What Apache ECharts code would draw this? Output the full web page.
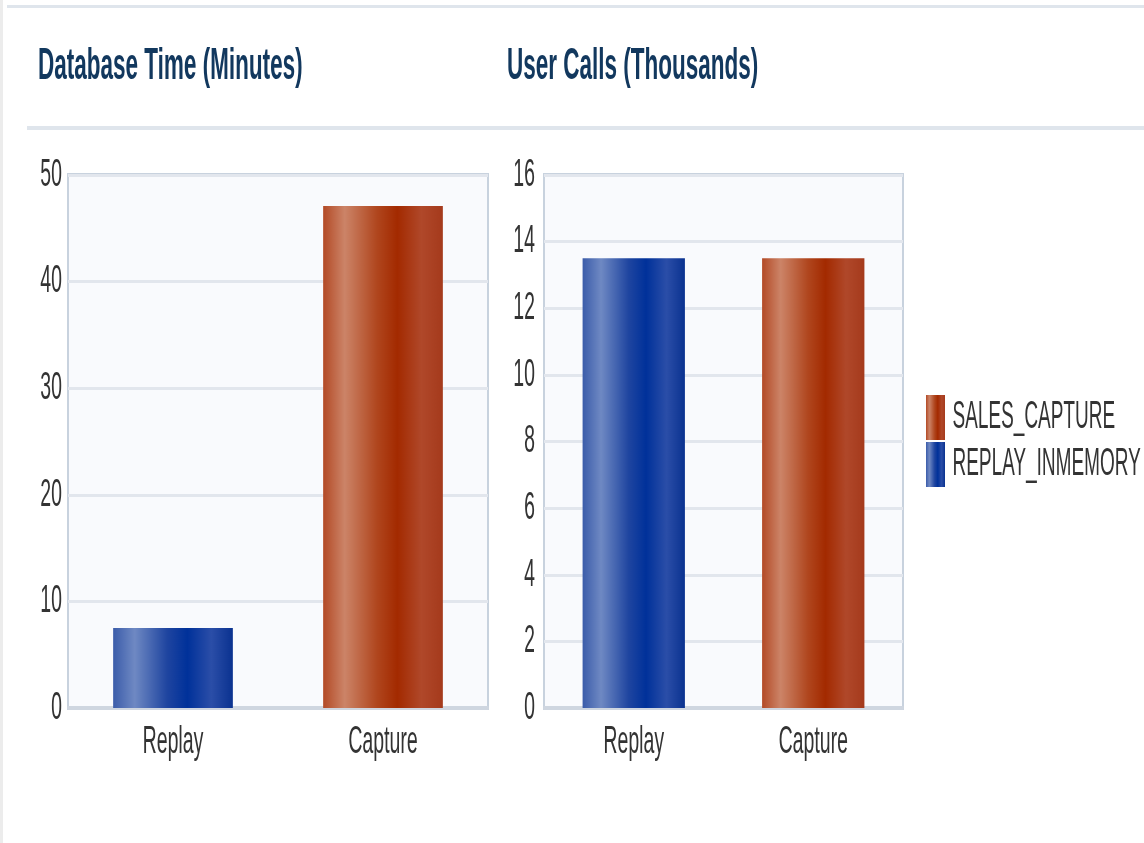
<!DOCTYPE html>
<html>
<head>
<meta charset="utf-8">
<script src="https://cdn.jsdelivr.net/npm/echarts@6/dist/echarts.min.js"></script>
<style>
html,body{margin:0;padding:0;background:#ffffff;overflow:hidden;width:1144px;height:843px;}
#c{width:2288px;height:843px;transform:scaleX(0.5);transform-origin:0 0;}
</style>
</head>
<body>
<div id="c"></div>
<script>
// ---- data ----
const categories = ['Replay', 'Capture'];
const seriesNames = ['SALES_CAPTURE', 'REPLAY_INMEMORY'];
const titles = ['Database Time (Minutes)', 'User Calls (Thousands)'];
// Database Time (Minutes)
const dbTimeSales = ['-', 47.1];
const dbTimeReplay = [7.5, '-'];
// User Calls (Thousands)
const userCallsSales = ['-', 13.5];
const userCallsReplay = [13.5, '-'];

// ---- styles ----
const FONT = 'Liberation Sans, Arial, sans-serif';
const blueGrad = new echarts.graphic.LinearGradient(0, 0, 1, 0, [
  {offset: 0, color: '#3b5caa'},
  {offset: 0.18, color: '#6f89c3'},
  {offset: 0.45, color: '#1f45a0'},
  {offset: 0.62, color: '#00319a'},
  {offset: 0.82, color: '#2b4ea8'},
  {offset: 1, color: '#0a3290'}
]);
const orangeGrad = new echarts.graphic.LinearGradient(0, 0, 1, 0, [
  {offset: 0, color: '#b34a26'},
  {offset: 0.18, color: '#cc8468'},
  {offset: 0.45, color: '#b0461e'},
  {offset: 0.62, color: '#a32a00'},
  {offset: 0.82, color: '#b0482a'},
  {offset: 1, color: '#a53a1c'}
]);

const chart = echarts.init(document.getElementById('c'), null, {renderer: 'canvas'});

function xAxisCfg(gi) {
  return {
    type: 'category', gridIndex: gi, data: categories,
    axisTick: {show: false},
    axisLine: {lineStyle: {color: '#cfd6e0', width: 4}},
    axisLabel: {fontSize: 39, color: '#333333', fontFamily: FONT, margin: 15}
  };
}
function yAxisCfg(gi, max, interval, margin) {
  return {
    type: 'value', gridIndex: gi, min: 0, max: max, interval: interval,
    axisLine: {show: false}, axisTick: {show: false},
    splitLine: {lineStyle: {color: '#e2e6ed', width: 3}},
    axisLabel: {fontSize: 39, color: '#333333', fontFamily: FONT, margin: margin}
  };
}
function barSeries(name, gi, data, color) {
  return {
    name: name, type: 'bar', xAxisIndex: gi, yAxisIndex: gi,
    data: data, barWidth: '57%', barGap: '-100%',
    itemStyle: {color: color}
  };
}

chart.setOption({
  animation: false,
  backgroundColor: '#ffffff',
  title: [
    {text: titles[0], left: 76, top: 44, padding: 0,
     textStyle: {fontSize: 45, fontWeight: 'bold', color: '#12385e', fontFamily: FONT}},
    {text: titles[1], left: 1014, top: 44, padding: 0,
     textStyle: {fontSize: 45, fontWeight: 'bold', color: '#12385e', fontFamily: FONT}}
  ],
  graphic: [
    {type: 'rect', left: 0, top: 0, shape: {width: 6, height: 843}, style: {fill: '#ececec'}, silent: true},
    {type: 'rect', left: 14, top: 5, shape: {width: 2288, height: 3}, style: {fill: '#dfe5ec'}, silent: true},
    {type: 'rect', left: 54, top: 126, shape: {width: 2288, height: 4}, style: {fill: '#dfe5ec'}, silent: true}
  ],
  legend: {
    orient: 'vertical', left: 1852, top: 395, padding: 0,
    itemWidth: 38, itemHeight: 45, itemGap: 2, icon: 'rect',
    data: seriesNames,
    textStyle: {fontSize: 38, color: '#333333', fontFamily: FONT, padding: [0, 0, 0, 10]}
  },
  grid: [
    {left: 136, right: 1312, top: 175, bottom: 135, show: true,
     backgroundColor: '#f9fafd', borderColor: '#c8d2de', borderWidth: 4},
    {left: 1088, right: 482, top: 175, bottom: 135, show: true,
     backgroundColor: '#f9fafd', borderColor: '#c8d2de', borderWidth: 4}
  ],
  xAxis: [xAxisCfg(0), xAxisCfg(1)],
  yAxis: [yAxisCfg(0, 50, 10, 12), yAxisCfg(1, 16, 2, 18)],
  series: [
    barSeries(seriesNames[0], 0, dbTimeSales, orangeGrad),
    barSeries(seriesNames[1], 0, dbTimeReplay, blueGrad),
    barSeries(seriesNames[0], 1, userCallsSales, orangeGrad),
    barSeries(seriesNames[1], 1, userCallsReplay, blueGrad)
  ]
});
</script>
</body>
</html>
